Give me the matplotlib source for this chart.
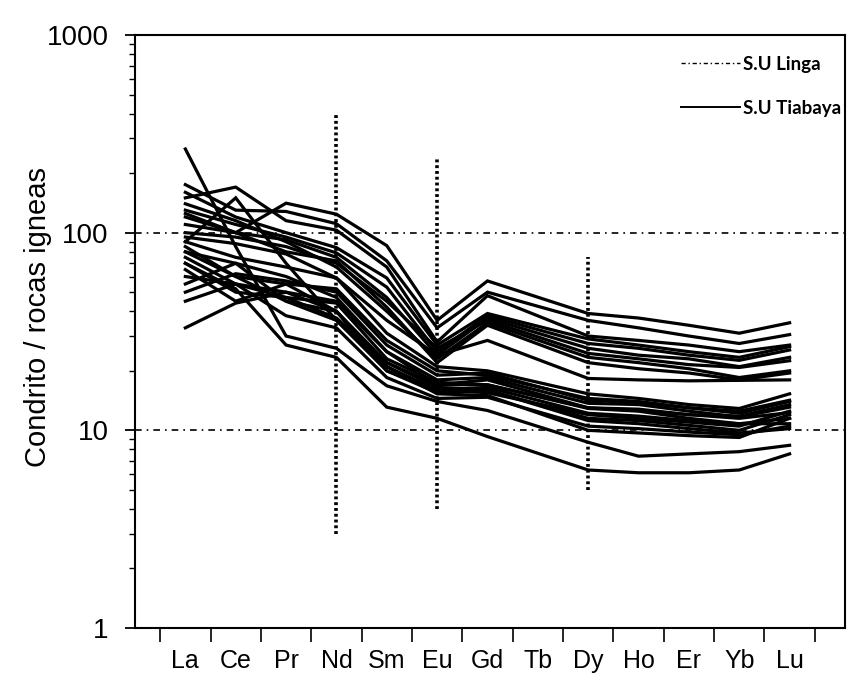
import matplotlib
matplotlib.use("Agg")
import matplotlib.pyplot as plt
from matplotlib.lines import Line2D
from matplotlib.ticker import LogLocator, NullFormatter, FixedLocator

# Rare earth elements on the axis (Tb is labelled but has no analyses)
elements = ["La", "Ce", "Pr", "Nd", "Sm", "Eu", "Gd", "Tb", "Dy", "Ho", "Er", "Yb", "Lu"]
analysed = ["La", "Ce", "Pr", "Nd", "Sm", "Eu", "Gd", "Dy", "Ho", "Er", "Yb", "Lu"]

# Chondrite-normalised REE patterns, upper (HREE-rich) samples
up_01 = [120, 100, 141, 124, 86, 36, 57, 39, 37, 34, 31, 35]
up_02 = [175, 130, 128, 111, 72, 33, 50, 36, 33, 30, 27.5, 30.5]
up_03 = [150, 170, 115, 103, 67, 28, 48, 30, 28.5, 27, 25, 27]
up_04 = [160, 120, 100, 84, 59, 27, 39, 29, 27, 25, 23.4, 26.5]
up_05 = [130, 110, 95, 79, 53, 25, 38, 27.5, 26, 24, 22.6, 25.5]
up_06 = [110, 100, 92, 75, 47, 24, 37, 26, 24, 23, 21, 23.4]
up_07 = [100, 95, 85, 70, 45, 26, 36, 24.5, 23, 21.5, 20.8, 22.5]
up_08 = [140, 115, 90, 67, 40, 23, 35, 23.4, 22, 20.5, 18.5, 20]
up_09 = [125, 100, 80, 72, 42, 22, 34, 22, 20.5, 19.5, 18.0, 19.5]
up_10 = [95, 88, 78, 59, 36, 24, 28.5, 18.3, 18, 17.8, 17.9, 18]

# Chondrite-normalised REE patterns, lower samples
lo_01 = [90, 75, 67, 59, 31, 21, 20, 15.3, 14.5, 13.5, 12.9, 15.3]
lo_02 = [85, 60, 55, 52, 28.5, 20, 19, 14.5, 14, 13, 12.5, 14.2]
lo_03 = [80, 70, 60, 47, 25, 18, 18.5, 13.7, 13.5, 12.5, 11.7, 13.1]
lo_04 = [75, 55, 50, 45, 25, 17, 18, 13, 12.8, 12, 11.5, 12.3]
lo_05 = [70, 50, 47, 44, 23, 17.5, 17, 12.9, 12.5, 11.5, 10.8, 11.5]
lo_06 = [65, 45, 55, 40, 21, 16, 16.5, 12.2, 11.8, 11.2, 10.8, 10.8]
lo_07 = [60, 55, 47, 37, 22, 16.5, 16, 11.2, 10.8, 10.2, 9.7, 10.2]
lo_08 = [55, 70, 45, 36, 21, 15.3, 15, 10, 9.7, 9.4, 9.2, 11.5]
lo_09 = [45, 55, 38, 33, 18.5, 14.5, 14.7, 10.5, 10.2, 9.8, 9.5, 10.5]
lo_10 = [33, 44, 50, 40, 20, 15.5, 16, 11.5, 11.2, 10.6, 10, 12]
lo_11 = [265, 85, 30, 26, 16.8, 14, 12.6, 8.7, 7.4, 7.6, 7.8, 8.4]
lo_12 = [70, 52, 27, 23.4, 13.1, 11.5, 9.3, 6.3, 6.1, 6.1, 6.3, 7.6]
lo_13 = [80, 60, 45, 40, 22, 17, 17, 13, 12.6, 12, 11.8, 13.5]
lo_14 = [90, 150, 70, 36, 20, 16, 15.5, 12, 11.5, 11, 10.5, 12.5]
lo_15 = [50, 62, 57, 50, 27, 19, 19.5, 14.2, 13.8, 13, 12.2, 14]

upper_samples = [up_01, up_02, up_03, up_04, up_05, up_06, up_07, up_08, up_09, up_10]
lower_samples = [lo_01, lo_02, lo_03, lo_04, lo_05, lo_06, lo_07, lo_08, lo_09,
                 lo_10, lo_11, lo_12, lo_13, lo_14, lo_15]

# Reference markers: vertical dotted bars (element, low, high)
marker_elements = ["Nd", "Eu", "Dy"]
marker_low = [3, 4, 5]
marker_high = [400, 235, 75]
guide_levels = [100, 10]

legend_labels = ["S.U Linga", "S.U Tiabaya"]

plt.rcParams["font.family"] = ["Liberation Sans", "DejaVu Sans"]

W, H = 859, 676
fig = plt.figure(figsize=(W / 100, H / 100), dpi=100)
ax = fig.add_axes([135 / W, 48 / H, 710 / W, 593 / H])

pos = {el: i + 1 for i, el in enumerate(elements)}
xs = [pos[el] for el in analysed]

# horizontal guides
for lvl in guide_levels:
    ax.axhline(lvl, color="black", lw=1.2, ls=(0, (4, 3, 1, 3)), zorder=1)

# vertical dotted markers
for el, lo, hi in zip(marker_elements, marker_low, marker_high):
    ax.plot([pos[el], pos[el]], [lo, hi], color="black", lw=2.6,
            ls=(0, (0.8, 0.8)), zorder=2)

for s in upper_samples + lower_samples:
    ax.plot(xs, s, color="black", lw=2.3, solid_joinstyle="miter", zorder=3)

ax.set_yscale("log")
ax.set_ylim(1, 1000)
ax.set_xlim(0, 14.1)

ax.yaxis.set_major_locator(FixedLocator([1, 10, 100, 1000]))
ax.set_yticklabels(["1", "10", "100", "1000"])
ax.yaxis.set_minor_locator(LogLocator(base=10, subs=range(2, 10)))
ax.yaxis.set_minor_formatter(NullFormatter())
ax.tick_params(axis="y", which="major", direction="out", length=7, width=1.3,
               labelsize=20, pad=12)
ax.tick_params(axis="y", which="minor", direction="out", length=4, width=1.0)

ax.set_xticks(range(1, len(elements) + 1))
ax.set_xticklabels(elements)
ax.set_xticks([i + 0.5 for i in range(len(elements) + 1)], minor=True)
ax.tick_params(axis="x", which="major", length=0, labelsize=18, pad=15)
ax.tick_params(axis="x", which="minor", direction="out", length=10, width=1.2)

for sp in ax.spines.values():
    sp.set_linewidth(1.5)

ax.set_ylabel("Condrito / rocas igneas", fontsize=21)
ax.yaxis.set_label_coords(-0.117, 0.524)

handles = [
    Line2D([], [], color="black", lw=1.0, ls=(0, (3, 2, 1, 2))),
    Line2D([], [], color="black", lw=1.4),
]
leg = ax.legend(handles, legend_labels, loc="upper right",
                bbox_to_anchor=(0.995, 0.965), frameon=False,
                handlelength=3.1, handletextpad=0.2, labelspacing=1.45,
                borderaxespad=0.0, borderpad=0.0,
                prop={"family": ["Lato", "Liberation Sans"],
                      "size": 13.5, "weight": "bold"})

fig.savefig("out.png", dpi=100, facecolor="white")
